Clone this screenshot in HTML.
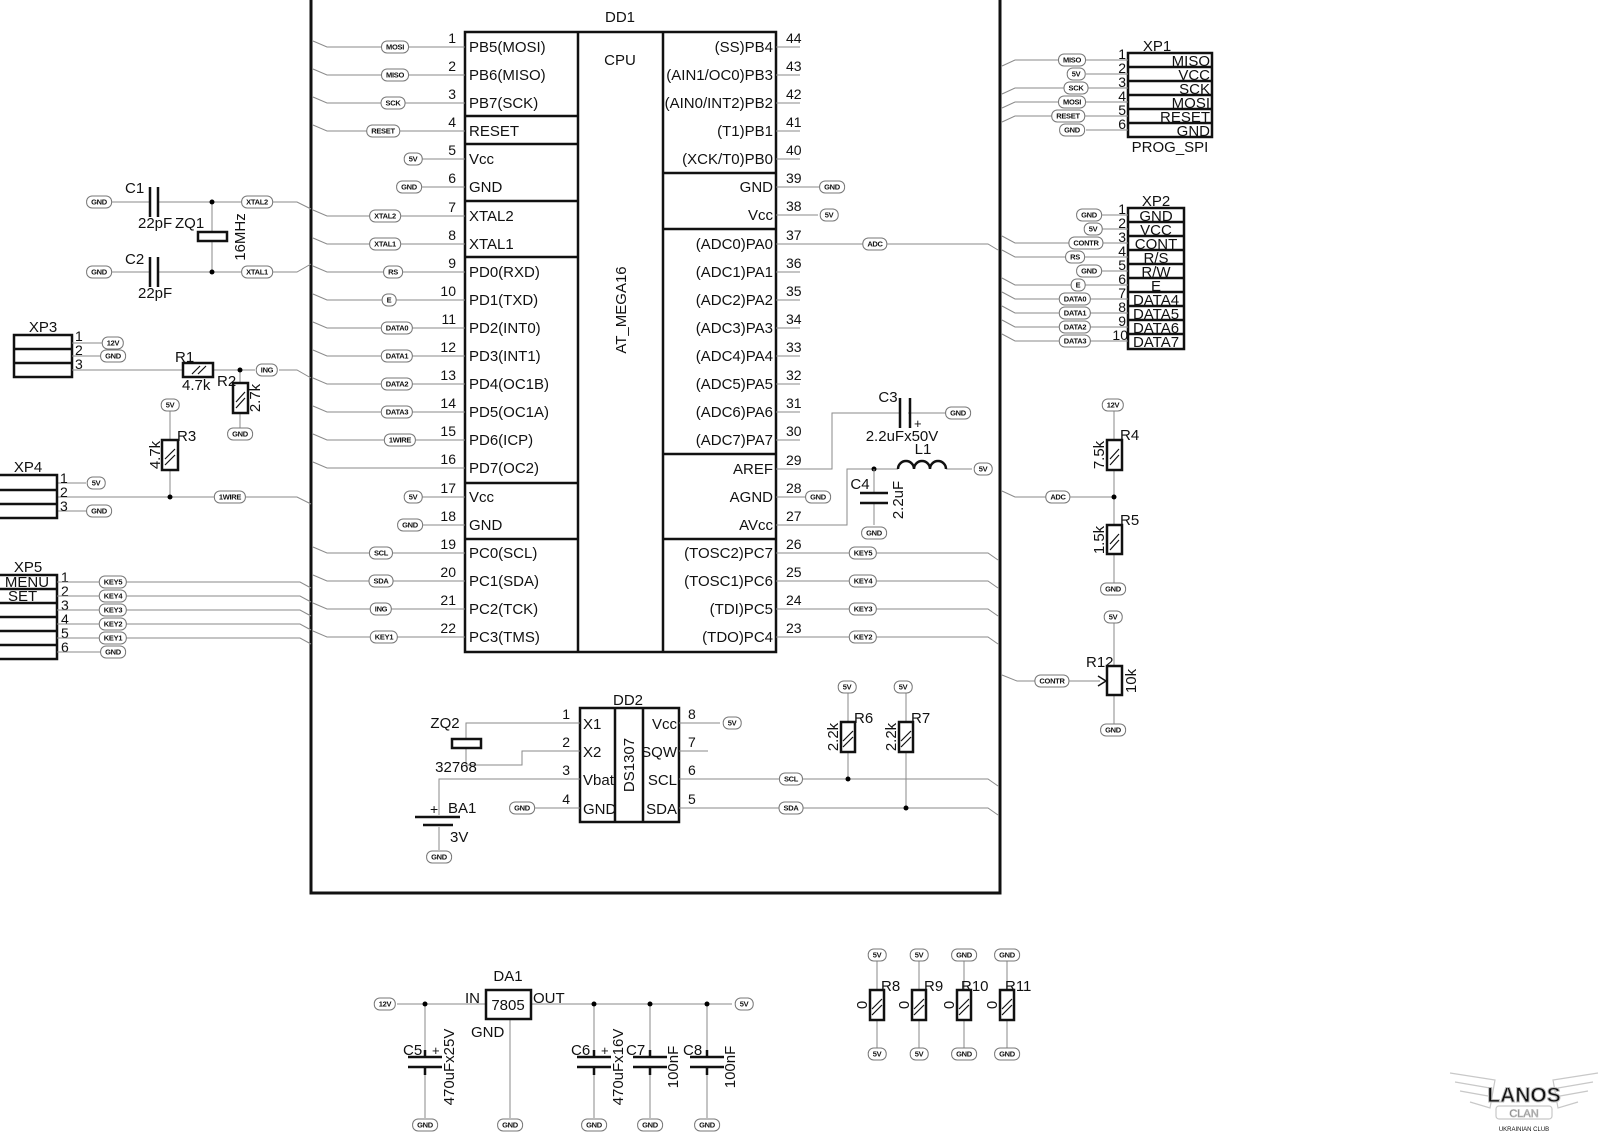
<!DOCTYPE html>
<html><head><meta charset="utf-8"><style>
body{margin:0;background:#fff}
#c{position:relative;width:1600px;height:1132px;overflow:hidden;background:#fff}
svg{position:absolute;left:0;top:0}
i{position:absolute;transform:translate(-50%,-50%);font:bold 7.5px "Liberation Sans",sans-serif;font-style:normal;border:1px solid #777;border-radius:6px;padding:1px 4px;background:#fff;line-height:9px;color:#111;white-space:nowrap;letter-spacing:-0.3px}
.w{stroke:#8a8a8a;stroke-width:1;fill:none}
.k{stroke:#111;stroke-width:2.5;fill:none}
.h{stroke:#111;stroke-width:1.2;fill:none}
text{font-family:"Liberation Sans",sans-serif;fill:#111}
.p{font-size:15px}
.n{font-size:14px}
</style></head><body><div id="c">
<svg width="1600" height="1132" viewBox="0 0 1600 1132">
<!-- buses -->
<path d="M311 0V893H1000V0" stroke="#111" stroke-width="3" fill="none"/>
<!-- DD1 -->
<rect x="465" y="32" width="311" height="620" class="k"/>
<path d="M578 32V652M663 32V652M465 116H578M465 144H578M465 201H578M465 257H578M465 483H578M465 539H578M663 173H776M663 229H776M663 454H776M663 539H776" class="k"/>
<text x="620" y="22" text-anchor="middle" class="p">DD1</text>
<text x="620" y="65" text-anchor="middle" class="p">CPU</text>
<text transform="translate(626,310) rotate(-90)" text-anchor="middle" class="p">AT_MEGA16</text>
<g class="p">
<text x="469" y="52">PB5(MOSI)</text><text x="469" y="80">PB6(MISO)</text><text x="469" y="108">PB7(SCK)</text><text x="469" y="136">RESET</text><text x="469" y="164">Vcc</text><text x="469" y="192">GND</text><text x="469" y="221">XTAL2</text><text x="469" y="249">XTAL1</text><text x="469" y="277">PD0(RXD)</text><text x="469" y="305">PD1(TXD)</text><text x="469" y="333">PD2(INT0)</text><text x="469" y="361">PD3(INT1)</text><text x="469" y="389">PD4(OC1B)</text><text x="469" y="417">PD5(OC1A)</text><text x="469" y="445">PD6(ICP)</text><text x="469" y="473">PD7(OC2)</text><text x="469" y="502">Vcc</text><text x="469" y="530">GND</text><text x="469" y="558">PC0(SCL)</text><text x="469" y="586">PC1(SDA)</text><text x="469" y="614">PC2(TCK)</text><text x="469" y="642">PC3(TMS)</text>
</g>
<g class="p" text-anchor="end">
<text x="773" y="52">(SS)PB4</text><text x="773" y="80">(AIN1/OC0)PB3</text><text x="773" y="108">(AIN0/INT2)PB2</text><text x="773" y="136">(T1)PB1</text><text x="773" y="164">(XCK/T0)PB0</text><text x="773" y="192">GND</text><text x="773" y="220">Vcc</text><text x="773" y="249">(ADC0)PA0</text><text x="773" y="277">(ADC1)PA1</text><text x="773" y="305">(ADC2)PA2</text><text x="773" y="333">(ADC3)PA3</text><text x="773" y="361">(ADC4)PA4</text><text x="773" y="389">(ADC5)PA5</text><text x="773" y="417">(ADC6)PA6</text><text x="773" y="445">(ADC7)PA7</text><text x="773" y="474">AREF</text><text x="773" y="502">AGND</text><text x="773" y="530">AVcc</text><text x="773" y="558">(TOSC2)PC7</text><text x="773" y="586">(TOSC1)PC6</text><text x="773" y="614">(TDI)PC5</text><text x="773" y="642">(TDO)PC4</text>
</g>
<g class="n" text-anchor="end">
<text x="456" y="43">1</text><text x="456" y="71">2</text><text x="456" y="99">3</text><text x="456" y="127">4</text><text x="456" y="155">5</text><text x="456" y="183">6</text><text x="456" y="212">7</text><text x="456" y="240">8</text><text x="456" y="268">9</text><text x="456" y="296">10</text><text x="456" y="324">11</text><text x="456" y="352">12</text><text x="456" y="380">13</text><text x="456" y="408">14</text><text x="456" y="436">15</text><text x="456" y="464">16</text><text x="456" y="493">17</text><text x="456" y="521">18</text><text x="456" y="549">19</text><text x="456" y="577">20</text><text x="456" y="605">21</text><text x="456" y="633">22</text>
</g>
<g class="n">
<text x="786" y="43">44</text><text x="786" y="71">43</text><text x="786" y="99">42</text><text x="786" y="127">41</text><text x="786" y="155">40</text><text x="786" y="183">39</text><text x="786" y="211">38</text><text x="786" y="240">37</text><text x="786" y="268">36</text><text x="786" y="296">35</text><text x="786" y="324">34</text><text x="786" y="352">33</text><text x="786" y="380">32</text><text x="786" y="408">31</text><text x="786" y="436">30</text><text x="786" y="465">29</text><text x="786" y="493">28</text><text x="786" y="521">27</text><text x="786" y="549">26</text><text x="786" y="577">25</text><text x="786" y="605">24</text><text x="786" y="633">23</text>
</g>
<!-- left pin wires -->
<path class="w" d="M313 41L327 47H465M313 69L327 75H465M313 97L327 103H465M313 125L327 131H465M420 159H465M420 187H465M313 210L327 216H465M313 238L327 244H465M313 266L327 272H465M313 294L327 300H465M313 322L327 328H465M313 350L327 356H465M313 378L327 384H465M313 406L327 412H465M313 434L327 440H465M313 462L327 468H465M420 497H465M420 525H465M313 547L327 553H465M313 575L327 581H465M313 603L327 609H465M313 631L327 637H465"/>
<!-- right pin wires -->
<path class="w" d="M776 47H800M776 75H800M776 103H800M776 131H800M776 159H800M776 187H820M776 215H818M776 244H988L998 250M776 272H800M776 300H800M776 328H800M776 356H800M776 384H800M776 412H800M776 440H800M776 469H832V413H900M908 413H948M776 497H806M776 525H847V469H898M946 469H972M776 553H988L998 560M776 581H988L998 588M776 609H988L998 616M776 637H988L998 644"/>
<!-- C3 -->
<path d="M900 398V428M910 398V428" class="k"/>
<text x="888" y="402" class="p" text-anchor="middle">C3</text><text x="914" y="428" font-size="13">+</text>
<text x="902" y="441" class="p" text-anchor="middle">2.2uFx50V</text>
<!-- L1 -->
<path d="M898 469a8 8 0 0 1 16 0a8 8 0 0 1 16 0a8 8 0 0 1 16 0" stroke="#111" stroke-width="2.5" fill="none"/>
<text x="923" y="454" class="p" text-anchor="middle">L1</text>
<!-- C4 -->
<circle cx="874" cy="469" r="2.5"/>
<path class="w" d="M874 469V493M874 503V525"/>
<path d="M860 493H888M860 503H888" class="k"/>
<text x="860" y="489" class="p" text-anchor="middle">C4</text>
<text transform="translate(903,500) rotate(-90)" text-anchor="middle" class="p">2.2uF</text>
<!-- left side components -->
<path class="w" d="M110 202H150M158 202H245M269 202H297L311 209M110 272H150M158 272H245M269 272H297L311 264M212 202V232M212 241V272"/>
<path d="M150 187V217M158 187V217M150 257V287M158 257V287" class="k"/>
<rect x="198" y="232" width="29" height="9" class="k"/>
<circle cx="212" cy="202" r="2.5"/><circle cx="212" cy="272" r="2.5"/>
<text x="125" y="193" class="p">C1</text><text x="138" y="228" class="p">22pF</text><text x="175" y="228" class="p">ZQ1</text>
<text transform="translate(245,237) rotate(-90)" text-anchor="middle" class="p">16MHz</text>
<text x="125" y="264" class="p">C2</text><text x="138" y="298" class="p">22pF</text>
<!-- XP3 -->
<rect x="14" y="335" width="58" height="42" class="k"/><path d="M14 349H72M14 363H72" class="k"/>
<text x="43" y="332" class="p" text-anchor="middle">XP3</text>
<text x="75" y="341" class="n">1</text><text x="75" y="355" class="n">2</text><text x="75" y="369" class="n">3</text>
<path class="w" d="M72 343H102M72 356H102M72 370H183M213 370H255M279 370H297L311 378M240 370V383M240 413V428M170 411V440M170 470V497M57 483H86M57 497H216M244 497H297L311 504M57 511H88"/>
<rect x="183" y="363" width="30" height="14" class="k"/><path class="h" d="M192 374L200 366M198 374L206 366"/>
<rect x="233" y="383" width="15" height="30" class="k"/><path class="h" d="M236 402L245 392M236 408L245 398"/>
<rect x="162" y="440" width="16" height="30" class="k"/><path class="h" d="M165 459L175 449M165 465L175 455"/>
<circle cx="240" cy="370" r="2.5"/><circle cx="170" cy="497" r="2.5"/>
<text x="175" y="362" class="p">R1</text><text x="182" y="390" class="p">4.7k</text>
<text x="217" y="386" class="p">R2</text><text transform="translate(260,398) rotate(-90)" text-anchor="middle" class="p">2.7k</text>
<text x="177" y="441" class="p">R3</text><text transform="translate(160,455) rotate(-90)" text-anchor="middle" class="p">4.7k</text>
<!-- XP4 -->
<rect x="-2" y="475" width="59" height="43" class="k"/><path d="M0 490H57M0 504H57" class="k"/>
<text x="28" y="472" class="p" text-anchor="middle">XP4</text>
<text x="60" y="483" class="n">1</text><text x="60" y="497" class="n">2</text><text x="60" y="511" class="n">3</text>
<!-- XP5 -->
<rect x="-2" y="575" width="59" height="84" class="k"/><path d="M0 589H57M0 603H57M0 617H57M0 631H57M0 645H57" class="k"/>
<text x="28" y="572" class="p" text-anchor="middle">XP5</text>
<text x="27" y="587" class="p" text-anchor="middle">MENU</text><text x="8" y="601" class="p">SET</text>
<g class="n"><text x="61" y="582">1</text><text x="61" y="596">2</text><text x="61" y="610">3</text><text x="61" y="624">4</text><text x="61" y="638">5</text><text x="61" y="652">6</text></g>
<path class="w" d="M57 582H300L311 588M57 596H300L311 602M57 610H300L311 616M57 624H300L311 630M57 638H300L311 644M57 652H102"/>
<!-- XP1 -->
<rect x="1128" y="53" width="84" height="84" class="k"/><path d="M1128 67H1212M1128 81H1212M1128 95H1212M1128 109H1212M1128 123H1212" class="k"/>
<text x="1157" y="51" class="p" text-anchor="middle">XP1</text>
<g class="p" text-anchor="end"><text x="1210" y="66">MISO</text><text x="1210" y="80">VCC</text><text x="1210" y="94">SCK</text><text x="1210" y="108">MOSI</text><text x="1210" y="122">RESET</text><text x="1210" y="136">GND</text></g>
<text x="1170" y="152" class="p" text-anchor="middle">PROG_SPI</text>
<g class="n" text-anchor="end"><text x="1126" y="59">1</text><text x="1126" y="73">2</text><text x="1126" y="87">3</text><text x="1126" y="101">4</text><text x="1126" y="115">5</text><text x="1126" y="129">6</text></g>
<path class="w" d="M1002 66L1015 60H1128M1086 74H1128M1002 94L1015 88H1128M1002 108L1015 102H1128M1002 122L1015 116H1128M1086 130H1128"/>
<!-- XP2 -->
<rect x="1128" y="208" width="56" height="141" class="k"/>
<path d="M1128 222H1184M1128 236H1184M1128 250H1184M1128 264H1184M1128 278H1184M1128 292H1184M1128 306H1184M1128 320H1184M1128 334H1184" class="k"/>
<text x="1156" y="206" class="p" text-anchor="middle">XP2</text>
<g class="p" text-anchor="middle"><text x="1156" y="221">GND</text><text x="1156" y="235">VCC</text><text x="1156" y="249">CONT</text><text x="1156" y="263">R/S</text><text x="1156" y="277">R/W</text><text x="1156" y="291">E</text><text x="1156" y="305">DATA4</text><text x="1156" y="319">DATA5</text><text x="1156" y="333">DATA6</text><text x="1156" y="347">DATA7</text></g>
<g class="n" text-anchor="end"><text x="1126" y="214">1</text><text x="1126" y="228">2</text><text x="1126" y="242">3</text><text x="1126" y="256">4</text><text x="1126" y="270">5</text><text x="1126" y="284">6</text><text x="1126" y="298">7</text><text x="1126" y="312">8</text><text x="1126" y="326">9</text><text x="1128" y="340">10</text></g>
<path class="w" d="M1100 215H1128M1100 229H1128M1002 236L1015 243H1128M1002 250L1015 257H1128M1100 271H1128M1002 278L1015 285H1128M1002 292L1015 299H1128M1002 306L1015 313H1128M1002 320L1015 327H1128M1002 334L1015 341H1128"/>
<!-- R4 R5 R12 -->
<path class="w" d="M1114 411V440M1114 470V525M1114 554V583M1002 491L1015 497H1114M1114 623V666M1114 695V724M1002 675L1017 681H1100"/>
<rect x="1107" y="440" width="15" height="30" class="k"/><path class="h" d="M1110 459L1119 449M1110 465L1119 455"/>
<rect x="1107" y="525" width="15" height="29" class="k"/><path class="h" d="M1110 544L1119 534M1110 550L1119 540"/>
<rect x="1107" y="666" width="15" height="29" class="k"/>
<path d="M1098 676L1106 681L1098 686" stroke="#111" stroke-width="1.5" fill="none"/>
<circle cx="1114" cy="497" r="2.5"/>
<text x="1120" y="440" class="p">R4</text><text transform="translate(1104,455) rotate(-90)" text-anchor="middle" class="p">7.5k</text>
<text x="1120" y="525" class="p">R5</text><text transform="translate(1104,540) rotate(-90)" text-anchor="middle" class="p">1.5k</text>
<text x="1086" y="667" class="p">R12</text><text transform="translate(1136,681) rotate(-90)" text-anchor="middle" class="p">10k</text>
<!-- DD2 -->
<rect x="580" y="708" width="99" height="114" class="k"/><path d="M615 708V822M643 708V822" class="k"/>
<text x="628" y="705" class="p" text-anchor="middle">DD2</text>
<text transform="translate(634,765) rotate(-90)" text-anchor="middle" class="p">DS1307</text>
<g class="p"><text x="583" y="729">X1</text><text x="583" y="757">X2</text><text x="583" y="785">Vbat</text><text x="583" y="814">GND</text></g>
<g class="p" text-anchor="end"><text x="677" y="729">Vcc</text><text x="677" y="757">SQW</text><text x="677" y="785">SCL</text><text x="677" y="814">SDA</text></g>
<g class="n" text-anchor="end"><text x="570" y="719">1</text><text x="570" y="747">2</text><text x="570" y="775">3</text><text x="570" y="804">4</text></g>
<g class="n"><text x="688" y="719">8</text><text x="688" y="747">7</text><text x="688" y="775">6</text><text x="688" y="804">5</text></g>
<path class="w" d="M466 739V723H580M466 748V765H522V751H580M580 779H439V815M439 827V850M534 808H580M679 723H720M679 751H708M679 779H988L998 786M679 808H988L998 815M848 693V722M848 752V779M906 693V722M906 752V808"/>
<rect x="452" y="739" width="29" height="9" class="k"/>
<path d="M415 817H460M423 825H453" class="k"/>
<text x="430" y="814" font-size="14">+</text>
<text x="445" y="728" class="p" text-anchor="middle">ZQ2</text><text x="456" y="772" class="p" text-anchor="middle">32768</text>
<text x="448" y="813" class="p">BA1</text><text x="450" y="842" class="p">3V</text>
<rect x="841" y="722" width="14" height="30" class="k"/><path class="h" d="M843 741L853 731M843 747L853 737"/>
<rect x="899" y="722" width="14" height="30" class="k"/><path class="h" d="M901 741L911 731M901 747L911 737"/>
<circle cx="848" cy="779" r="2.5"/><circle cx="906" cy="808" r="2.5"/>
<text x="854" y="723" class="p">R6</text><text x="911" y="723" class="p">R7</text>
<text transform="translate(838,737) rotate(-90)" text-anchor="middle" class="p">2.2k</text>
<text transform="translate(896,737) rotate(-90)" text-anchor="middle" class="p">2.2k</text>
<!-- power -->
<path class="w" d="M397 1004H486M531 1004H732M425 1004V1057M425 1067V1118M510 1019V1118M594 1004V1057M594 1067V1118M650 1004V1057M650 1067V1118M707 1004V1057M707 1067V1118"/>
<rect x="486" y="990" width="45" height="29" class="k"/>
<path d="M408 1057H442M408 1067H442M577 1057H611M577 1067H611M633 1057H667M633 1067H667M690 1057H724M690 1067H724" class="k"/>
<path d="M425 1050V1057M425 1067V1075M594 1050V1057M594 1067V1075M650 1050V1057M650 1067V1075M707 1050V1057M707 1067V1075" stroke="#111" stroke-width="2.5"/>
<circle cx="425" cy="1004" r="2.5"/><circle cx="594" cy="1004" r="2.5"/><circle cx="650" cy="1004" r="2.5"/><circle cx="707" cy="1004" r="2.5"/>
<text x="508" y="981" class="p" text-anchor="middle">DA1</text><text x="508" y="1010" class="p" text-anchor="middle">7805</text>
<text x="465" y="1003" class="p">IN</text><text x="533" y="1003" class="p">OUT</text><text x="471" y="1037" class="p">GND</text>
<text x="403" y="1055" class="p">C5</text><text x="432" y="1055" font-size="13">+</text>
<text x="571" y="1055" class="p">C6</text><text x="601" y="1055" font-size="13">+</text>
<text x="626" y="1055" class="p">C7</text><text x="683" y="1055" class="p">C8</text>
<text transform="translate(454,1067) rotate(-90)" text-anchor="middle" class="p">470uFx25V</text>
<text transform="translate(623,1067) rotate(-90)" text-anchor="middle" class="p">470uFx16V</text>
<text transform="translate(678,1067) rotate(-90)" text-anchor="middle" class="p">100nF</text>
<text transform="translate(735,1067) rotate(-90)" text-anchor="middle" class="p">100nF</text>
<!-- R8-R11 -->
<path class="w" d="M877 961V990M877 1020V1048M919 961V990M919 1020V1048M964 961V990M964 1020V1048M1007 961V990M1007 1020V1048"/>
<rect x="870" y="990" width="14" height="30" class="k"/><rect x="912" y="990" width="14" height="30" class="k"/><rect x="957" y="990" width="14" height="30" class="k"/><rect x="1000" y="990" width="14" height="30" class="k"/>
<path class="h" d="M872 1009L882 999M872 1015L882 1005M914 1009L924 999M914 1015L924 1005M959 1009L969 999M959 1015L969 1005M1002 1009L1012 999M1002 1015L1012 1005"/>
<g class="p"><text x="881" y="991">R8</text><text x="924" y="991">R9</text><text x="961" y="991">R10</text><text x="1005" y="991">R11</text>
<text transform="translate(867,1005) rotate(-90)" text-anchor="middle">0</text><text transform="translate(909,1005) rotate(-90)" text-anchor="middle">0</text><text transform="translate(954,1005) rotate(-90)" text-anchor="middle">0</text><text transform="translate(997,1005) rotate(-90)" text-anchor="middle">0</text></g>
<!-- logo -->
<g fill="none" stroke="#c8c8c8" stroke-width="1.2">
<path d="M1450 1073L1495 1080L1490 1108L1470 1102M1455 1082L1490 1088M1460 1091L1488 1096M1598 1073L1553 1080L1558 1108L1578 1102M1593 1082L1558 1088M1588 1091L1560 1096"/>
<rect x="1496" y="1106" width="56" height="13" rx="3"/>
</g>
<text x="1524" y="1102" text-anchor="middle" font-size="21" font-weight="bold" fill="#fff" stroke="#bbb" stroke-width="1">LANOS</text>
<text x="1524" y="1117" text-anchor="middle" font-size="11" fill="#fff" stroke="#bbb" stroke-width="0.8">CLAN</text>
<text x="1524" y="1131" text-anchor="middle" font-size="6" fill="#bbb">UKRAINIAN CLUB</text>
</svg>
<!-- tags -->
<i style="left:395px;top:47px">MOSI</i><i style="left:395px;top:75px">MISO</i><i style="left:393px;top:103px">SCK</i><i style="left:383px;top:131px">RESET</i><i style="left:413px;top:159px">5V</i><i style="left:409px;top:187px">GND</i><i style="left:385px;top:216px">XTAL2</i><i style="left:385px;top:244px">XTAL1</i><i style="left:393px;top:272px">RS</i><i style="left:389px;top:300px">E</i><i style="left:397px;top:328px">DATA0</i><i style="left:397px;top:356px">DATA1</i><i style="left:397px;top:384px">DATA2</i><i style="left:397px;top:412px">DATA3</i><i style="left:400px;top:440px">1WIRE</i><i style="left:413px;top:497px">5V</i><i style="left:410px;top:525px">GND</i><i style="left:381px;top:553px">SCL</i><i style="left:381px;top:581px">SDA</i><i style="left:381px;top:609px">ING</i><i style="left:384px;top:637px">KEY1</i>
<i style="left:832px;top:187px">GND</i><i style="left:829px;top:215px">5V</i><i style="left:875px;top:244px">ADC</i><i style="left:818px;top:497px">GND</i><i style="left:863px;top:553px">KEY5</i><i style="left:863px;top:581px">KEY4</i><i style="left:863px;top:609px">KEY3</i><i style="left:863px;top:637px">KEY2</i>
<i style="left:958px;top:413px">GND</i><i style="left:983px;top:469px">5V</i><i style="left:874px;top:533px">GND</i>
<i style="left:99px;top:202px">GND</i><i style="left:257px;top:202px">XTAL2</i><i style="left:99px;top:272px">GND</i><i style="left:257px;top:272px">XTAL1</i>
<i style="left:113px;top:343px">12V</i><i style="left:113px;top:356px">GND</i><i style="left:267px;top:370px">ING</i><i style="left:240px;top:434px">GND</i><i style="left:170px;top:405px">5V</i>
<i style="left:96px;top:483px">5V</i><i style="left:230px;top:497px">1WIRE</i><i style="left:99px;top:511px">GND</i>
<i style="left:113px;top:582px">KEY5</i><i style="left:113px;top:596px">KEY4</i><i style="left:113px;top:610px">KEY3</i><i style="left:113px;top:624px">KEY2</i><i style="left:113px;top:638px">KEY1</i><i style="left:113px;top:652px">GND</i>
<i style="left:1072px;top:60px">MISO</i><i style="left:1076px;top:74px">5V</i><i style="left:1076px;top:88px">SCK</i><i style="left:1072px;top:102px">MOSI</i><i style="left:1068px;top:116px">RESET</i><i style="left:1072px;top:130px">GND</i>
<i style="left:1089px;top:215px">GND</i><i style="left:1093px;top:229px">5V</i><i style="left:1086px;top:243px">CONTR</i><i style="left:1075px;top:257px">RS</i><i style="left:1089px;top:271px">GND</i><i style="left:1078px;top:285px">E</i><i style="left:1075px;top:299px">DATA0</i><i style="left:1075px;top:313px">DATA1</i><i style="left:1075px;top:327px">DATA2</i><i style="left:1075px;top:341px">DATA3</i>
<i style="left:1113px;top:405px">12V</i><i style="left:1058px;top:497px">ADC</i><i style="left:1113px;top:589px">GND</i><i style="left:1113px;top:617px">5V</i><i style="left:1052px;top:681px">CONTR</i><i style="left:1113px;top:730px">GND</i>
<i style="left:847px;top:687px">5V</i><i style="left:903px;top:687px">5V</i>
<i style="left:732px;top:723px">5V</i><i style="left:522px;top:808px">GND</i><i style="left:439px;top:857px">GND</i><i style="left:791px;top:779px">SCL</i><i style="left:791px;top:808px">SDA</i>
<i style="left:385px;top:1004px">12V</i><i style="left:744px;top:1004px">5V</i>
<i style="left:425px;top:1125px">GND</i><i style="left:510px;top:1125px">GND</i><i style="left:594px;top:1125px">GND</i><i style="left:650px;top:1125px">GND</i><i style="left:707px;top:1125px">GND</i>
<i style="left:877px;top:955px">5V</i><i style="left:919px;top:955px">5V</i><i style="left:964px;top:955px">GND</i><i style="left:1007px;top:955px">GND</i>
<i style="left:877px;top:1054px">5V</i><i style="left:919px;top:1054px">5V</i><i style="left:964px;top:1054px">GND</i><i style="left:1007px;top:1054px">GND</i>
</div></body></html>
